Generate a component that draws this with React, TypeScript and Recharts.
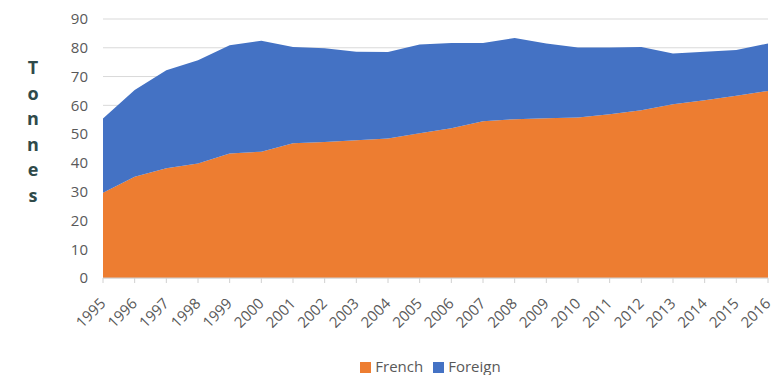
import {AreaChart, Area, XAxis, YAxis, CartesianGrid, Legend} from 'recharts';

const years = ['1995', '1996', '1997', '1998', '1999', '2000', '2001', '2002', '2003', '2004', '2005',
    '2006', '2007', '2008', '2009', '2010', '2011', '2012', '2013', '2014', '2015', '2016'];
const french = [29.6, 35.2, 38.1, 39.8, 43.3, 43.9, 46.8, 47.3, 47.9, 48.5, 50.3,
    52, 54.5, 55.2, 55.5, 55.8, 56.9, 58.3, 60.4, 61.8, 63.3, 65];
const foreign = [25.8, 30.1, 34.1, 35.9, 37.6, 38.5, 33.5, 32.5, 30.7, 30, 30.8,
    29.7, 27.2, 28.2, 26, 24.3, 23.2, 22, 17.6, 16.8, 15.9, 16.5];
const yTicks = [0, 10, 20, 30, 40, 50, 60, 70, 80, 90];
const axisLetters = ['T', 'o', 'n', 'n', 'e', 's'];
const legendOrder = ['French', 'Foreign'];

const data = years.map((y, i) => ({year: y, French: french[i], Foreign: foreign[i]}));

const font = '"Open Sans", sans-serif';

export default function App() {
    return (
        <div style={{position: 'absolute', left: 0, top: 0, width: 773, height: 375, background: '#fff'}}>
            <div style={{
                position: 'absolute', left: 22, top: 55, width: 22, display: 'flex', flexDirection: 'column',
                alignItems: 'center', fontFamily: font, fontWeight: 'bold', fontSize: 18, color: '#2f4a4a',
                lineHeight: '25.5px'
            }}>
                {axisLetters.map((c, i) => <span key={i}>{c}</span>)}
            </div>
            <AreaChart width={773} height={375} data={data}
                       margin={{top: 19, right: 5, left: 0, bottom: 0}}>
                <CartesianGrid vertical={false} stroke="#d9d9d9"/>
                <XAxis dataKey="year" height={75} interval={0} angle={-45} textAnchor="end"
                       tick={{fill: '#595959', fontSize: 15, fontFamily: font, dx: -4}}
                       tickSize={5} tickMargin={14} stroke="#d0d0d0"/>
                <YAxis width={103} domain={[0, 90]} ticks={yTicks} axisLine={false} tickLine={false}
                       tickMargin={9} tick={{fill: '#595959', fontSize: 15, fontFamily: font}}/>
                <Legend height={22} width={665} verticalAlign="bottom" iconType="square" iconSize={11}
                        itemSorter={(item: any) => legendOrder.indexOf(item.value)}
                        wrapperStyle={{left: 103, top: 356, fontFamily: font, fontSize: 15, color: '#595959'}}
                        formatter={(v) => <span style={{color: '#595959'}}>{v}</span>}/>
                <Area type="linear" dataKey="French" stackId="a" fill="#ED7D31" stroke="none"
                      fillOpacity={1} isAnimationActive={false}/>
                <Area type="linear" dataKey="Foreign" stackId="a" fill="#4472C4" stroke="none"
                      fillOpacity={1} isAnimationActive={false}/>
            </AreaChart>
        </div>
    );
}
